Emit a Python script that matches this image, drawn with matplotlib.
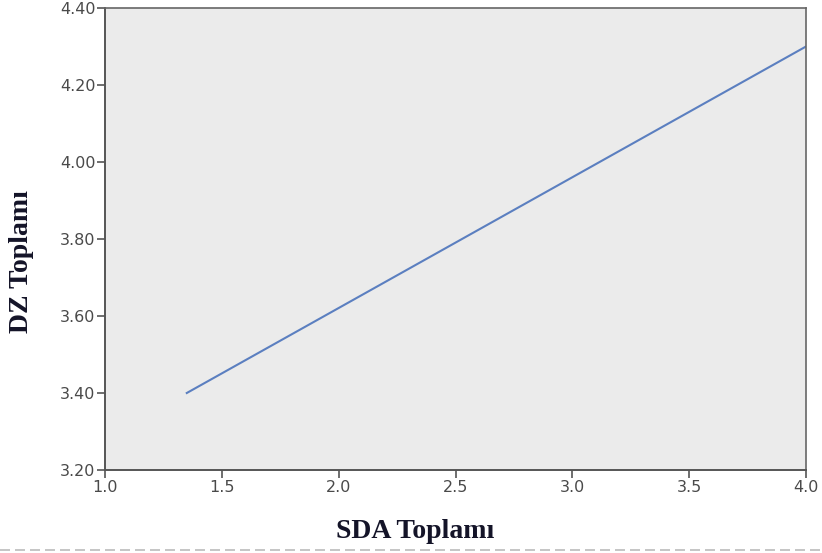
#!/usr/bin/env python3

#imports
import matplotlib
matplotlib.use("Agg")
import matplotlib.pyplot as plt
from matplotlib.lines import Line2D

#data
sda_toplami = [1.35, 4.0]
dz_toplami = [3.40, 4.30]
x_ticks = [1.0, 1.5, 2.0, 2.5, 3.0, 3.5, 4.0]
y_ticks = [3.20, 3.40, 3.60, 3.80, 4.00, 4.20, 4.40]

#main
def main():
    fig = plt.figure(figsize=(8.22, 5.53), dpi=100)
    ax = fig.add_axes([105 / 822, 1 - 470 / 553, 701 / 822, 462 / 553])
    ax.set_facecolor("#ebebeb")

    ax.plot(sda_toplami, dz_toplami, color="#5b7fc0", linewidth=1.5)

    ax.set_xlim(1.0, 4.0)
    ax.set_ylim(3.20, 4.40)
    ax.set_xticks(x_ticks)
    ax.set_xticklabels([f"{t:.1f}" for t in x_ticks], fontfamily="DejaVu Sans")
    ax.set_yticks(y_ticks)
    ax.set_yticklabels([f"{t:.2f}" for t in y_ticks], fontfamily="DejaVu Sans")

    for side in ["left", "bottom"]:
        ax.spines[side].set_color("#555555")
        ax.spines[side].set_linewidth(1.4)
    for side in ["top", "right"]:
        ax.spines[side].set_color("#666666")
        ax.spines[side].set_linewidth(1.2)

    ax.tick_params(direction="out", length=6, width=1.2, color="#555555",
                   labelcolor="#4a4a4a", labelsize=11.5, pad=1)

    # axis titles, placed off-centre like the original
    fig.text(415 / 822, 1 - 532 / 553, "SDA Toplamı", fontfamily="Liberation Serif",
             fontweight="bold", fontsize=20, color="#141428", ha="center", va="center")
    fig.text(21 / 822, 1 - 262 / 553, "DZ Toplamı", fontfamily="Liberation Serif",
             fontweight="bold", fontsize=20, color="#141428", ha="center", va="center",
             rotation=90)

    # dashed border at the bottom
    fig.add_artist(Line2D([0, 1], [1 - 550 / 553, 1 - 550 / 553], transform=fig.transFigure,
                          color="#bbbbbb", linestyle=(0, (6, 3)), linewidth=1.2))

    fig.savefig("out.png", dpi=100)

if __name__ == "__main__":
    main()
